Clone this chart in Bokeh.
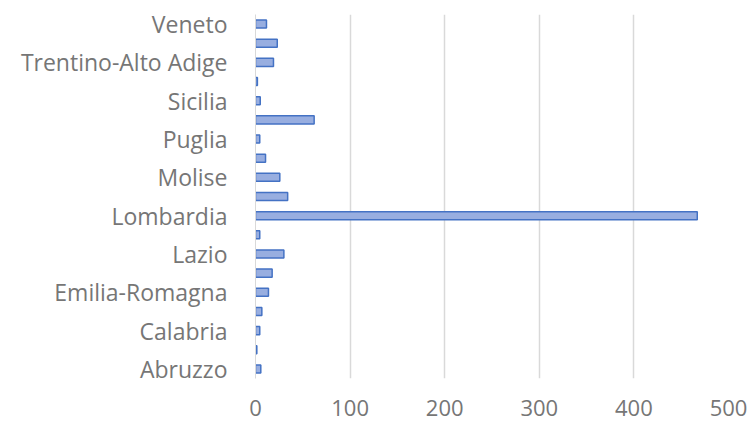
from bokeh.plotting import figure
from bokeh.models import Range1d, FixedTicker, ColumnDataSource
from bokeh.embed import file_html
from bokeh.resources import INLINE

regions = ["Abruzzo", "Basilicata", "Calabria", "Campania", "Emilia-Romagna",
           "Friuli-Venezia Giulia", "Lazio", "Liguria", "Lombardia", "Marche",
           "Molise", "Piemonte", "Puglia", "Sardegna", "Sicilia", "Toscana",
           "Trentino-Alto Adige", "Umbria", "Veneto"]
values = [5.6, 1.4, 4.5, 6.7, 13.7, 17.6, 30, 4.5, 467, 34,
          25.7, 10.6, 4.5, 62, 5, 2, 19, 23, 11.6]
x_ticks = [0, 100, 200, 300, 400, 500]

idx = list(range(len(regions)))
src = ColumnDataSource(dict(y=idx, v=values, name=regions))

p = figure(width=755, height=422, output_backend="svg", toolbar_location=None,
           x_range=Range1d(0, 500), y_range=Range1d(-0.5, len(regions) - 0.5),
           min_border_left=255, min_border_right=27, min_border_top=14,
           min_border_bottom=44)
p.outline_line_color = None

p.hbar(y="y", right="v", left=0, height=0.42, source=src,
       fill_color="#98aee0", line_color="#4472c4", line_width=1.5)

label_color = "#767676"
font = "Open Sans"

p.xaxis.ticker = FixedTicker(ticks=x_ticks)
p.xaxis.axis_line_color = None
p.xaxis.major_tick_line_color = None
p.xaxis.minor_tick_line_color = None
p.xaxis.major_label_text_font = font
p.xaxis.major_label_text_font_size = "22px"
p.xaxis.major_label_text_color = label_color
p.xaxis.major_label_standoff = 15

shown = idx[::2]
p.yaxis.ticker = FixedTicker(ticks=shown)
p.yaxis.major_label_overrides = {i: regions[i] for i in shown}
p.yaxis.axis_line_color = "#d9d9d9"
p.yaxis.major_tick_line_color = None
p.yaxis.minor_tick_line_color = None
p.yaxis.major_label_text_font = font
p.yaxis.major_label_text_font_size = "23px"
p.yaxis.major_label_text_color = label_color
p.yaxis.major_label_standoff = 22

p.xgrid.ticker = FixedTicker(ticks=x_ticks)
p.xgrid.grid_line_color = "#d9d9d9"
p.xgrid.grid_line_width = 1.5
p.ygrid.grid_line_color = None

open("out.html", "w").write(file_html(p, INLINE))
